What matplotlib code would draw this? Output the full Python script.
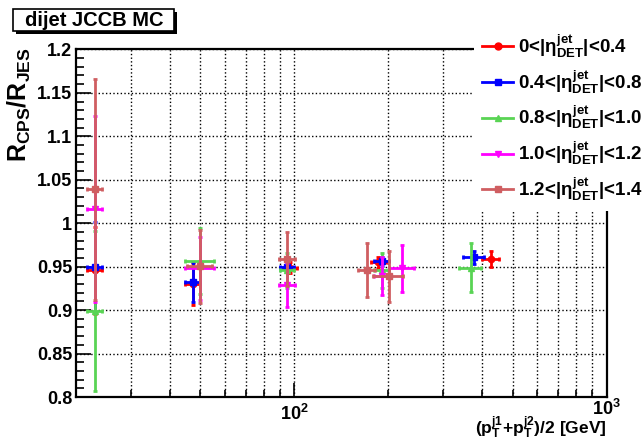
import numpy as np
import matplotlib.pyplot as plt
from matplotlib.lines import Line2D
from matplotlib.patches import Rectangle
from matplotlib.ticker import FixedLocator, NullFormatter, MultipleLocator

plt.rcParams['font.family'] = 'Liberation Sans'
plt.rcParams['font.weight'] = 'bold'
plt.rcParams['mathtext.fontset'] = 'custom'
plt.rcParams['mathtext.rm'] = 'Liberation Sans:bold'
plt.rcParams['mathtext.bf'] = 'Liberation Sans:bold'
plt.rcParams['mathtext.it'] = 'Liberation Sans'

# average dijet pT [GeV], ratio R_CPS/R_JES and errors, per eta bin
pt_00 = [23.0, 47.4, 97.0, 186.0, 426.0]
r_00 = [0.946, 0.930, 0.949, 0.955, 0.959]
dr_00 = [0.050, 0.024, 0.006, 0.006, 0.009]
dpt_00 = [1.2, 2.5, 5.0, 10.0, 27.0]

pt_04 = [23.0, 47.4, 95.2, 190.6, 377.0]
r_04 = [0.9495, 0.9326, 0.9495, 0.956, 0.961]
dr_04 = [0.052, 0.023, 0.006, 0.005, 0.0075]
dpt_04 = [1.2, 2.5, 5.0, 10.0, 29.0]

pt_08 = [23.0, 50.0, 95.2, 190.6, 367.0]
r_08 = [0.8985, 0.957, 0.946, 0.946, 0.949]
dr_08 = [0.092, 0.038, 0.020, 0.020, 0.028]
dpt_08 = [1.2, 5.4, 5.0, 10.0, 30.0]

pt_10 = [23.0, 50.0, 95.2, 190.6, 221.0]
r_10 = [1.016, 0.948, 0.929, 0.939, 0.948]
dr_10 = [0.107, 0.036, 0.025, 0.022, 0.027]
dpt_10 = [1.2, 5.4, 5.6, 10.0, 20.0]

pt_12 = [23.0, 50.0, 95.2, 170.8, 200.9]
r_12 = [1.039, 0.9505, 0.9587, 0.9457, 0.9387]
dr_12 = [0.127, 0.042, 0.031, 0.031, 0.029]
dpt_12 = [1.2, 4.6, 5.6, 11.0, 22.0]

labels = [r'0<|$\eta^{\mathbf{jet}}_{\mathbf{DET}}$|<0.4',
          r'0.4<|$\eta^{\mathbf{jet}}_{\mathbf{DET}}$|<0.8',
          r'0.8<|$\eta^{\mathbf{jet}}_{\mathbf{DET}}$|<1.0',
          r'1.0<|$\eta^{\mathbf{jet}}_{\mathbf{DET}}$|<1.2',
          r'1.2<|$\eta^{\mathbf{jet}}_{\mathbf{DET}}$|<1.4']
colors = ['#ff0000', '#0000ff', '#59d454', '#ff00ff', '#cf5e61']
markers = ['o', 's', '^', 'v', 's']

series = [(pt_00, r_00, dpt_00, dr_00), (pt_04, r_04, dpt_04, dr_04),
          (pt_08, r_08, dpt_08, dr_08), (pt_10, r_10, dpt_10, dr_10),
          (pt_12, r_12, dpt_12, dr_12)]

W, H = 643, 444
fig = plt.figure(figsize=(W / 100, H / 100), dpi=100)
ax = fig.add_axes([75.7 / W, 47 / H, (606.7 - 75.7) / W, (397 - 49.4) / H])

for i, (x, y, dx, dy) in enumerate(series):
    ax.errorbar(x, y, xerr=dx, yerr=dy, fmt=markers[i], color=colors[i],
                ms=4.5, elinewidth=2, capsize=1.2, capthick=2, zorder=3 + i)

ax.set_xscale('log')
ax.set_xlim(20, 1000)
ax.set_ylim(0.8, 1.2)

ax.xaxis.set_major_locator(FixedLocator([100, 1000]))
ax.set_xticklabels([r'$\mathbf{10^{2}}$', r'$\mathbf{10^{3}}$'])
ax.get_xticklabels()[1].set_y(0.015)
ax.xaxis.set_minor_locator(FixedLocator([30, 40, 50, 60, 70, 80, 90,
                                         200, 300, 400, 500, 600, 700, 800, 900]))
ax.xaxis.set_minor_formatter(NullFormatter())
ax.yaxis.set_minor_locator(MultipleLocator(0.01))
ax.set_yticks([0.8, 0.85, 0.9, 0.95, 1.0, 1.05, 1.1, 1.15, 1.2])
ax.set_yticklabels(['0.8', '0.85', '0.9', '0.95', '1', '1.05', '1.1', '1.15', '1.2'])

ax.tick_params(axis='both', which='both', direction='in', top=False, right=False,
               labelsize=13, width=1.2)
ax.tick_params(axis='y', which='major', length=11, pad=2.5)
ax.tick_params(axis='y', which='minor', length=6)
ax.tick_params(axis='x', which='major', length=10, pad=5)
ax.tick_params(axis='x', which='minor', length=5)

ax.grid(True, which='major', axis='y', color='black', linestyle=':', linewidth=1)
ax.grid(True, which='both', axis='x', color='black', linestyle=':', linewidth=1)
for s in ax.spines.values():
    s.set_linewidth(1.6)

# axis titles
fig.text(19 / W, 1 - 47 / H, r'$\mathbf{R_{CPS}/R_{JES}}$', rotation=90,
         ha='center', va='top', fontsize=18)
fig.text(606.7 / W, 1 - 434 / H, r'$\mathbf{(p_{T}^{j1}{+}p_{T}^{j2})/2\ [GeV]}$',
         ha='right', va='baseline', fontsize=12.5)

# title box with shadow
fig.add_artist(Rectangle((16 / W, 1 - 34 / H), 161 / W, 22 / H,
                         transform=fig.transFigure, facecolor='black', edgecolor='none'))
fig.add_artist(Rectangle((13 / W, 1 - 31.5 / H), 161 / W, 22 / H,
                         transform=fig.transFigure, facecolor='white',
                         edgecolor='black', linewidth=1.2))
fig.text(94 / W, 1 - 21 / H, 'dijet JCCB MC', ha='center', va='center', fontsize=14.5)

handles = [Line2D([], [], color=colors[i], marker=markers[i], lw=2, ms=5)
           for i in range(5)]
leg = fig.legend(handles, labels, loc='upper left', bbox_to_anchor=(474 / W, 1 - 24 / H),
                 frameon=True, fancybox=False, edgecolor='none', facecolor='white',
                 framealpha=1, fontsize=13.5, borderaxespad=0, borderpad=0.45,
                 handlelength=1.65, handletextpad=0.25, labelspacing=0.45)

fig.savefig('out.png', dpi=100)
